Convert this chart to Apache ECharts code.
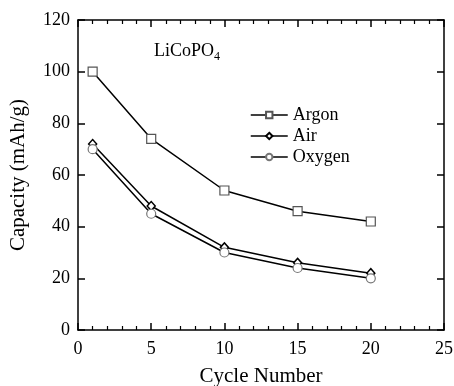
<!DOCTYPE html>
<html>
<head>
<meta charset="utf-8">
<script src="https://cdn.jsdelivr.net/npm/echarts@6/dist/echarts.min.js"></script>
<style>
  html, body { margin: 0; padding: 0; background: #fff; }
  #chart { width: 454px; height: 386px; }
</style>
</head>
<body>
<div id="chart"></div>
<script>
  // Data
  var cycles = [1, 5, 10, 15, 20];
  var argon = [100, 74, 54, 46, 42];
  var air = [72, 48, 32, 26, 22];
  var oxygen = [70, 45, 30, 24, 20];

  var chart = echarts.init(document.getElementById('chart'));
  var font = 'Liberation Serif';

  function pairs(ys) {
    return cycles.map(function (c, i) { return [c, ys[i]]; });
  }

  // shared look for all four frame sides
  function frameAxis(base) {
    return Object.assign({
      axisLine: { show: true, onZero: false, lineStyle: { color: '#000', width: 1.5 } },
      axisTick: { show: true, inside: true, length: 7, lineStyle: { color: '#000', width: 1.5 } },
      splitLine: { show: false },
      z: 10
    }, base);
  }

  chart.setOption({
    animation: false,
    textStyle: { fontFamily: font },
    grid: { left: 78, right: 10, top: 20, bottom: 56, outerBoundsMode: 'none' },
    legend: {
      orient: 'vertical',
      left: 250,
      top: 106,
      padding: 0,
      itemWidth: 37,
      itemHeight: 8,
      itemGap: 3,
      lineStyle: { width: 1.5 },
      textStyle: { fontFamily: font, fontSize: 18, lineHeight: 18, color: '#000' },
      data: ['Argon', 'Air', 'Oxygen']
    },
    graphic: [{
      type: 'text',
      left: 154,
      top: 42,
      style: {
        text: '{a|LiCoPO}{b|4}',
        rich: {
          a: { fontFamily: font, fontSize: 18, fill: '#000' },
          b: { fontFamily: font, fontSize: 12, fill: '#000', padding: [12, 0, 0, 0] }
        }
      }
    }],
    xAxis: [
      frameAxis({
        type: 'value', min: 0, max: 25, interval: 5,
        name: 'Cycle Number', nameLocation: 'middle', nameGap: 36,
        nameTextStyle: { fontFamily: font, fontSize: 21, color: '#000' },
        axisLabel: { fontFamily: font, fontSize: 18, color: '#000', margin: 10 },
        minorTick: { show: true, splitNumber: 5, length: 4, lineStyle: { color: '#000', width: 1.2 } }
      }),
      frameAxis({
        type: 'value', min: 0, max: 25, interval: 5, position: 'top',
        axisLabel: { show: false },
        minorTick: { show: true, splitNumber: 5, length: 4, lineStyle: { color: '#000', width: 1.2 } }
      })
    ],
    yAxis: [
      frameAxis({
        type: 'value', min: 0, max: 120, interval: 20,
        name: 'Capacity (mAh/g)', nameLocation: 'middle', nameGap: 49,
        nameTextStyle: { fontFamily: font, fontSize: 21, color: '#000' },
        axisLabel: { fontFamily: font, fontSize: 18, color: '#000', margin: 8 }
      }),
      frameAxis({
        type: 'value', min: 0, max: 120, interval: 20, position: 'right',
        axisLabel: { show: false }
      })
    ],
    series: [
      {
        name: 'Argon', type: 'line', data: pairs(argon),
        symbol: 'rect', symbolSize: 9,
        lineStyle: { color: '#000', width: 1.5 },
        itemStyle: { color: '#fff', borderColor: '#555', borderWidth: 1.2 }
      },
      {
        name: 'Air', type: 'line', data: pairs(air),
        symbol: 'diamond', symbolSize: [8, 9],
        lineStyle: { color: '#000', width: 1.5 },
        itemStyle: { color: '#fff', borderColor: '#000', borderWidth: 1.5 }
      },
      {
        name: 'Oxygen', type: 'line', data: pairs(oxygen),
        symbol: 'circle', symbolSize: 9,
        lineStyle: { color: '#000', width: 1.5 },
        itemStyle: { color: '#fff', borderColor: '#777', borderWidth: 1.2 }
      }
    ]
  });

  window.addEventListener('resize', function () {
    chart.resize();
  });
</script>
</body>
</html>
